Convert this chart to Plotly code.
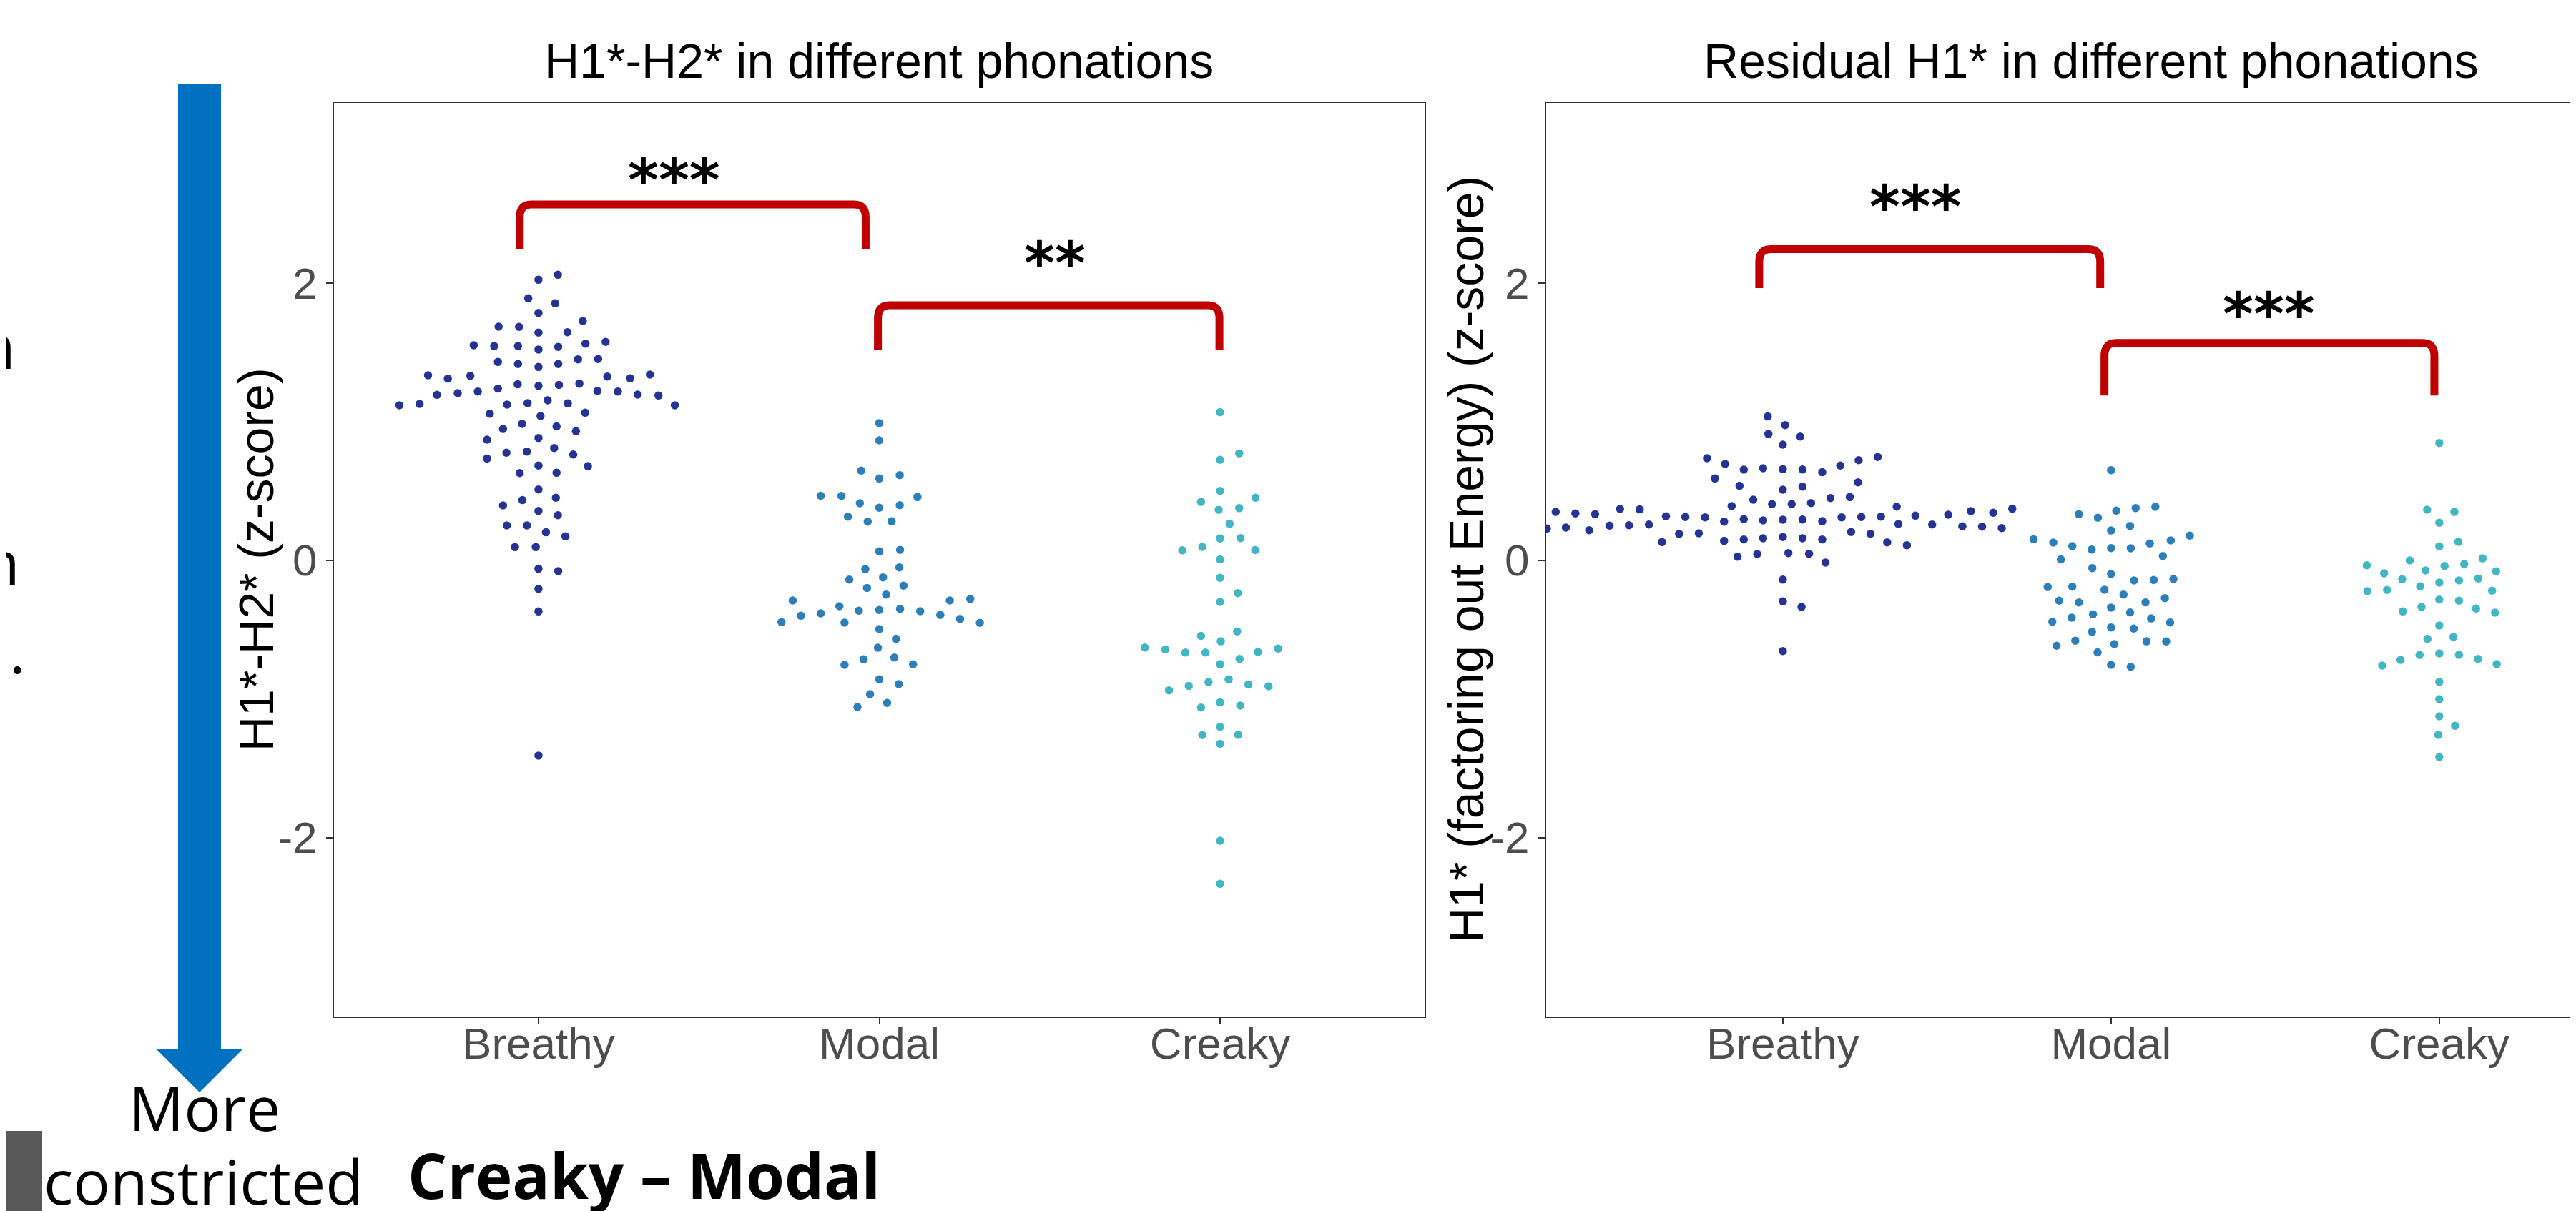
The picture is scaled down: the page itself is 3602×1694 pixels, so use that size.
import plotly.graph_objects as go

# ---------------- data ----------------
categories = ["Breathy", "Modal", "Creaky"]
cat_pos = [1, 2, 3]
y_ticks = [-2, 0, 2]

# Left panel: H1*-H2* (z-score); y values and beeswarm x-offsets (category units)
h1h2_breathy_y = [2.023, 2.059, 1.889, 1.853, 1.784, 1.726, 1.685, 1.683, 1.642, 1.645,
                  1.551, 1.545, 1.545, 1.520, 1.539, 1.562, 1.575, 1.430, 1.415, 1.394,
                  1.415, 1.449, 1.451, 1.334, 1.310, 1.330, 1.325, 1.312, 1.339, 1.193,
                  1.205, 1.217, 1.238, 1.269, 1.258, 1.265, 1.274, 1.221, 1.217, 1.195,
                  1.188, 1.118, 1.128, 1.118, 1.123, 1.133, 1.154, 1.131, 1.057, 1.040,
                  1.064, 0.947, 0.984, 0.965, 0.930, 0.870, 0.882, 0.810, 0.734, 0.776,
                  0.784, 0.763, 0.679, 0.683, 0.629, 0.631, 0.511, 0.434, 0.451, 0.396,
                  0.356, 0.325, 0.252, 0.252, 0.202, 0.173, 0.095, 0.095, -0.061, -0.078,
                  -0.206, -0.369, -1.408]
h1h2_breathy_dx = [0.000, 0.057, -0.030, 0.049, 0.000, 0.130, -0.117, -0.057, 0.000, 0.085,
                   -0.190, -0.130, -0.060, 0.000, 0.058, 0.138, 0.197, -0.119, -0.060, 0.000,
                   0.058, 0.116, 0.175, -0.324, -0.266, -0.200, 0.202, 0.269, 0.327, -0.298,
                   -0.237, -0.178, -0.119, -0.061, 0.000, 0.060, 0.120, 0.173, 0.233, 0.291,
                   0.352, -0.408, -0.349, 0.400, -0.092, -0.032, 0.027, 0.086, -0.143, 0.006,
                   0.137, -0.104, -0.048, 0.053, 0.110, -0.151, 0.000, 0.046, -0.151, -0.094,
                   -0.034, 0.102, 0.145, 0.000, -0.055, 0.053, 0.000, -0.047, 0.051, -0.104,
                   0.000, 0.057, -0.093, -0.034, 0.022, 0.079, -0.069, -0.008, 0.000, 0.058,
                   0.000, 0.000, 0.000]

h1h2_modal_y = [0.989, 0.865, 0.647, 0.590, 0.614, 0.466, 0.464, 0.411, 0.379, 0.397,
                0.456, 0.315, 0.279, 0.281, 0.064, 0.075, -0.064, -0.051, -0.139, -0.123,
                -0.199, -0.183, -0.247, -0.290, -0.290, -0.279, -0.331, -0.363, -0.358, -0.350,
                -0.367, -0.400, -0.382, -0.394, -0.446, -0.449, -0.422, -0.451, -0.496, -0.566,
                -0.630, -0.714, -0.701, -0.754, -0.750, -0.858, -0.893, -0.965, -1.028, -1.058]
h1h2_modal_dx = [0.000, 0.000, -0.053, 0.000, 0.060, -0.172, -0.111, -0.057, 0.000, 0.060,
                 0.112, -0.092, -0.034, 0.036, 0.000, 0.061, -0.041, 0.059, -0.088, 0.011,
                 -0.036, 0.071, 0.020, -0.254, 0.207, 0.267, -0.117, -0.060, 0.000, 0.061,
                 0.120, -0.230, -0.172, 0.179, -0.287, -0.102, 0.237, 0.295, 0.000, 0.049,
                 -0.004, -0.046, 0.044, -0.102, 0.099, 0.000, 0.057, -0.027, 0.023, -0.064]

h1h2_creaky_y = [1.068, 0.725, 0.771, 0.500, 0.421, 0.364, 0.376, 0.451, 0.264, 0.158,
                 0.160, 0.072, 0.097, 0.074, 0.006, -0.126, -0.237, -0.300, -0.545, -0.513,
                 -0.584, -0.629, -0.643, -0.665, -0.665, -0.661, -0.636, -0.749, -0.711, -0.938,
                 -0.906, -0.879, -0.858, -0.895, -0.908, -1.062, -1.024, -1.047, -1.201, -1.260,
                 -1.258, -1.323, -2.022, -2.333]
h1h2_creaky_dx = [0.000, 0.000, 0.056, 0.000, -0.056, -0.004, 0.056, 0.104, 0.028, 0.000,
                  0.060, -0.111, -0.052, 0.103, 0.000, 0.000, 0.052, 0.000, -0.056, 0.050,
                  0.002, -0.221, -0.161, -0.102, -0.043, 0.111, 0.170, 0.000, 0.057, -0.150,
                  -0.092, -0.034, 0.025, 0.083, 0.142, -0.056, 0.000, 0.059, 0.000, -0.052,
                  0.053, 0.000, 0.000, 0.000]

# Right panel: residual H1* (factoring out Energy) (z-score)
resid_breathy_y = [1.037, 0.975, 0.910, 0.892, 0.834, 0.736, 0.695, 0.654, 0.664, 0.657,
                   0.655, 0.635, 0.683, 0.722, 0.745, 0.590, 0.537, 0.509, 0.531, 0.562,
                   0.437, 0.405, 0.405, 0.413, 0.449, 0.456, 0.391, 0.387, 0.349, 0.338,
                   0.332, 0.370, 0.367, 0.317, 0.312, 0.310, 0.279, 0.296, 0.288, 0.293,
                   0.294, 0.282, 0.310, 0.312, 0.315, 0.322, 0.329, 0.355, 0.343, 0.372,
                   0.229, 0.236, 0.217, 0.250, 0.253, 0.258, 0.262, 0.258, 0.245, 0.243,
                   0.232, 0.190, 0.195, 0.204, 0.191, 0.131, 0.140, 0.150, 0.159, 0.168,
                   0.159, 0.150, 0.129, 0.109, 0.026, 0.045, 0.052, 0.047, -0.016, -0.139,
                   -0.296, -0.336, -0.654]
resid_breathy_dx = [-0.046, 0.007, -0.044, 0.053, 0.000, -0.231, -0.176, -0.119, -0.060, 0.000,
                    0.060, 0.120, 0.175, 0.231, 0.289, -0.207, -0.132, 0.000, 0.060, 0.229,
                    -0.090, -0.033, 0.027, 0.086, 0.145, 0.204, -0.156, 0.347, -0.692, -0.632,
                    -0.572, -0.496, -0.436, -0.356, -0.297, -0.237, -0.179, -0.119, -0.060, 0.000,
                    0.060, 0.120, 0.179, 0.239, 0.299, 0.404, 0.504, 0.573, 0.641, 0.699,
                    -0.719, -0.661, -0.590, -0.528, -0.469, -0.408, 0.352, 0.455, 0.547, 0.607,
                    0.667, -0.316, -0.256, 0.208, 0.267, -0.368, -0.179, -0.119, -0.060, 0.000,
                    0.060, 0.120, 0.318, 0.378, -0.138, -0.078, 0.017, 0.080, 0.130, 0.000,
                    0.000, 0.057, 0.000]

resid_modal_y = [0.650, 0.332, 0.307, 0.358, 0.377, 0.386, 0.215, 0.248, 0.152, 0.128,
                 0.102, 0.078, 0.088, 0.087, 0.121, 0.143, 0.178, 0.031, 0.006, -0.056,
                 -0.099, -0.145, -0.142, -0.135, -0.193, -0.190, -0.212, -0.247, -0.291, -0.304,
                 -0.304, -0.273, -0.341, -0.376, -0.389, -0.443, -0.413, -0.419, -0.448, -0.484,
                 -0.492, -0.516, -0.616, -0.580, -0.604, -0.584, -0.585, -0.664, -0.754, -0.768]
resid_modal_dx = [0.000, -0.098, -0.040, 0.016, 0.075, 0.135, 0.000, 0.058, -0.236, -0.176,
                  -0.118, -0.059, 0.000, 0.060, 0.118, 0.182, 0.240, 0.158, -0.153, -0.057,
                  0.000, 0.070, 0.130, 0.190, -0.193, -0.118, -0.020, 0.038, -0.158, -0.098,
                  0.105, 0.164, 0.000, 0.058, -0.055, -0.179, -0.120, 0.122, 0.180, 0.000,
                  0.069, -0.058, -0.166, -0.109, 0.010, 0.108, 0.168, -0.041, 0.000, 0.060]

resid_creaky_y = [0.846, 0.365, 0.349, 0.271, 0.101, 0.133, -0.036, -0.001, 0.014, -0.094,
                  -0.073, -0.041, -0.028, -0.080, -0.137, -0.188, -0.161, -0.145, -0.131, -0.223,
                  -0.214, -0.219, -0.283, -0.291, -0.369, -0.336, -0.348, -0.377, -0.470, -0.566,
                  -0.553, -0.759, -0.718, -0.683, -0.671, -0.681, -0.711, -0.748, -0.877, -1.001,
                  -1.125, -1.193, -1.259, -1.419]
resid_creaky_dx = [0.000, -0.037, 0.046, 0.000, 0.000, 0.058, -0.221, -0.090, 0.132, -0.168,
                   -0.042, 0.016, 0.076, 0.173, -0.113, -0.058, 0.000, 0.060, 0.119, -0.219,
                   -0.159, 0.161, 0.000, 0.060, -0.111, -0.054, 0.112, 0.170, 0.000, -0.036,
                   0.043, -0.174, -0.118, -0.060, 0.000, 0.060, 0.118, 0.175, 0.000, 0.000,
                   0.000, 0.048, -0.003, 0.000]

# significance brackets: (left x, right x, top y, leg-bottom y)
h1h2_brackets = [(0.945, 1.960, 2.566, 2.246), (1.996, 2.998, 1.839, 1.518)]
resid_brackets = [(0.928, 1.967, 2.244, 1.963), (1.980, 2.985, 1.567, 1.188)]
# significance labels: (x, y, text)
h1h2_stars = [(1.397, 2.757, "***"), (2.515, 2.160, "**")]
resid_stars = [(1.405, 2.571, "***"), (2.481, 1.794, "***")]

colors = ["#253494", "#2c7fb8", "#41b6c4"]

# ---------------- layout geometry ----------------
W, H = 3602, 1694


def px(x):
    return x / W


def py(y):
    return 1 - y / H


fig = go.Figure()

groups_left = [(h1h2_breathy_y, h1h2_breathy_dx), (h1h2_modal_y, h1h2_modal_dx),
               (h1h2_creaky_y, h1h2_creaky_dx)]
groups_right = [(resid_breathy_y, resid_breathy_dx), (resid_modal_y, resid_modal_dx),
                (resid_creaky_y, resid_creaky_dx)]

for axes, groups in ((("x", "y"), groups_left), (("x2", "y2"), groups_right)):
    for pos, (ys, dxs), col, name in zip(cat_pos, groups, colors, categories):
        fig.add_trace(go.Scatter(
            x=[pos + d for d in dxs], y=ys, mode="markers",
            marker=dict(size=11.5, color=col, line=dict(width=0)),
            xaxis=axes[0], yaxis=axes[1], showlegend=False, name=name,
            hoverinfo="skip"))

shapes = []
annotations = []


def bracket_path(x1, x2, yt, yb, rx, ry):
    return (f"M {x1},{yb} L {x1},{yt - ry} Q {x1},{yt} {x1 + rx},{yt} "
            f"L {x2 - rx},{yt} Q {x2},{yt} {x2},{yt - ry} L {x2},{yb}")


for (xr, yr, brs, stars, pxu) in (("x", "y", h1h2_brackets, h1h2_stars, 476.0),
                                  ("x2", "y2", resid_brackets, resid_stars, 459.0)):
    for (x1, x2, yt, yb) in brs:
        shapes.append(dict(type="path", xref=xr, yref=yr,
                           path=bracket_path(x1, x2, yt, yb, 16 / pxu, 18 / 194.0),
                           line=dict(color="#C00000", width=11), layer="above"))
    for (sx, sy, st) in stars:
        annotations.append(dict(xref=xr, yref=yr, x=sx, y=sy, text=f"<b>{st}</b>",
                                showarrow=False, xanchor="center", yanchor="middle",
                                yshift=-4,
                                font=dict(family="DejaVu Sans", size=82, color="black")))

# blue arrow (decoration on the slide)
arrow_col = "#0070C0"
shapes.append(dict(type="rect", xref="paper", yref="paper",
                   x0=px(241), x1=px(301), y0=py(1462), y1=py(110),
                   fillcolor=arrow_col, line=dict(width=0), layer="above"))
shapes.append(dict(type="path", xref="paper", yref="paper",
                   path=f"M {px(211)},{py(1460)} L {px(331)},{py(1460)} L {px(271)},{py(1520)} Z",
                   fillcolor=arrow_col, line=dict(width=0), layer="above"))
# grey block bottom-left
shapes.append(dict(type="rect", xref="paper", yref="paper",
                   x0=0, x1=px(51), y0=0, y1=py(1574),
                   fillcolor="#595959", line=dict(width=0), layer="above"))

title_font = dict(family="Liberation Sans", size=68, color="black")
slide_font = dict(family="Open Sans", size=86, color="black")
annotations += [
    dict(xref="paper", yref="paper", x=px(1221), y=py(77), text="H1*-H2* in different phonations",
         showarrow=False, xanchor="center", yanchor="middle", font=title_font),
    dict(xref="paper", yref="paper", x=px(2916), y=py(77),
         text="Residual H1* in different phonations",
         showarrow=False, xanchor="center", yanchor="middle", font=title_font),
    dict(xref="paper", yref="paper", x=px(350), y=py(775), text="H1*-H2* (z-score)",
         textangle=-90, showarrow=False, xanchor="center", yanchor="middle", font=title_font),
    dict(xref="paper", yref="paper", x=px(2042), y=py(775),
         text="H1* (factoring out Energy) (z-score)",
         textangle=-90, showarrow=False, xanchor="center", yanchor="middle", font=title_font),
    dict(xref="paper", yref="paper", x=px(278), y=py(1540), text="More",
         showarrow=False, xanchor="center", yanchor="middle", font=slide_font),
    dict(xref="paper", yref="paper", x=px(276), y=py(1643), text="constricted",
         showarrow=False, xanchor="center", yanchor="middle", font=slide_font),
    dict(xref="paper", yref="paper", x=px(892), y=py(1635), text="<b>Creaky \u2013 Modal</b>",
         showarrow=False, xanchor="center", yanchor="middle",
         font=dict(family="Open Sans", size=87, color="black")),
    # fragments of slide text cut off at the left edge
    dict(xref="paper", yref="paper", x=px(16), y=py(474), text="n",
         showarrow=False, xanchor="right", yanchor="middle", font=slide_font),
    dict(xref="paper", yref="paper", x=px(22), y=py(777), text="n",
         showarrow=False, xanchor="right", yanchor="middle", font=slide_font),
    dict(xref="paper", yref="paper", x=px(30), y=py(900), text=".",
         showarrow=False, xanchor="right", yanchor="middle", font=slide_font),
]

axis_common = dict(showgrid=False, zeroline=False, showline=True, linecolor="#333333",
                   linewidth=2, ticks="outside", ticklen=9, tickwidth=2, tickcolor="#333333",
                   tickfont=dict(family="Liberation Sans", size=62, color="#4D4D4D"))

fig.update_layout(
    width=W, height=H, margin=dict(l=0, r=0, t=0, b=0),
    paper_bgcolor="white", plot_bgcolor="white", showlegend=False,
    xaxis=dict(domain=[px(459), px(1984)], range=[0.4, 3.6], tickvals=cat_pos,
               ticktext=categories, mirror=True, anchor="y", ticklabelstandoff=-26,
               **axis_common),
    yaxis=dict(domain=[py(1414), py(136)], range=[-3.29, 3.298], tickvals=y_ticks,
               ticktext=[str(v) for v in y_ticks], mirror=True, anchor="x", **axis_common),
    xaxis2=dict(domain=[px(2154), 1.0], range=[0.279, 3.434], tickvals=cat_pos,
                ticktext=categories, mirror=True, anchor="y2", ticklabelstandoff=-26,
                **axis_common),
    yaxis2=dict(domain=[py(1414), py(136)], range=[-3.29, 3.298], tickvals=y_ticks,
                ticktext=[str(v) for v in y_ticks], mirror=False, anchor="x2", **axis_common),
    shapes=shapes, annotations=annotations,
)

fig.write_html("out.html")
